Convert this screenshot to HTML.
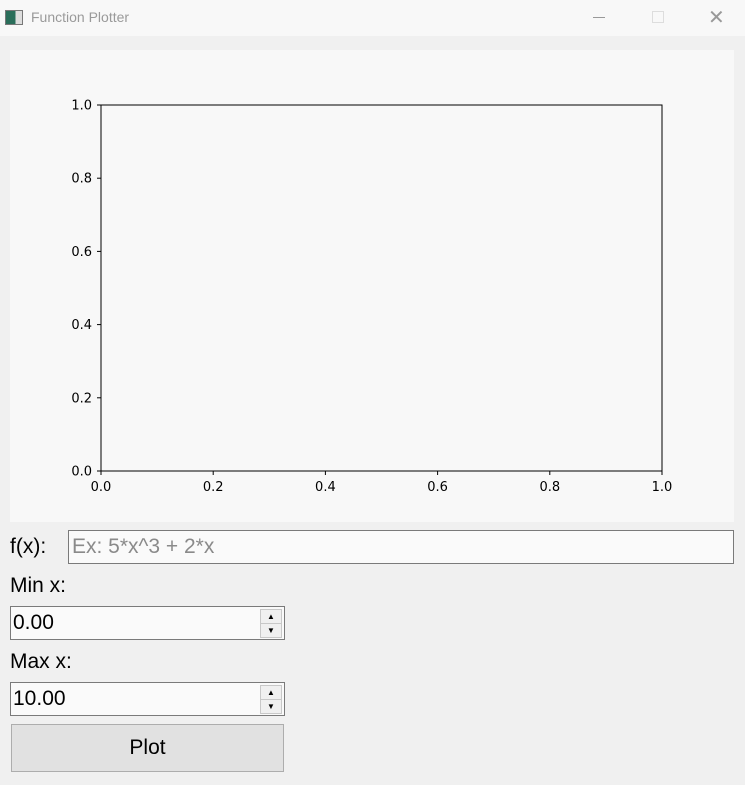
<!DOCTYPE html>
<html><head><meta charset="utf-8"><style>
body{margin:0;width:745px;height:785px;background:#f0f0f0;font-family:"Liberation Sans",sans-serif;position:relative;overflow:hidden}
.abs{position:absolute}
.lbl{font-size:21px;color:#000}
.box{background:#fafafa;border:1px solid #7a7a7a;box-sizing:border-box}
.spin{position:absolute;right:2px;width:22px;border:1px solid #c8c8c8;background:#f0f0f0;box-sizing:border-box;font-size:8px;text-align:center;line-height:13px}
</style></head><body>
<div class="abs" style="left:0;top:0;width:745px;height:36px;background:#f8f8f8">
 <div class="abs" style="left:5px;top:10px;width:16px;height:13px;border:1px solid #777;background:linear-gradient(90deg,#2a6e5a 60%,#ddd 60%)"></div>
 <div class="abs" style="left:31px;top:9px;font-size:14px;color:#9a9a9a">Function Plotter</div>
 <div class="abs" style="left:593px;top:17px;width:12px;height:1px;background:#999"></div>
 <div class="abs" style="left:652px;top:11px;width:10px;height:10px;border:1px solid #ddd"></div>
 <div class="abs" style="left:708px;top:5px;font-size:20px;color:#999">✕</div>
</div>
<svg class="abs" style="left:10px;top:50px" width="724" height="472">
 <rect width="724" height="472" fill="#f8f8f8"/>
 <g id="ax" font-family="DejaVu Sans, sans-serif" font-size="13" fill="#000"></g>
</svg>
<script>
const xTicks=[0.0,0.2,0.4,0.6,0.8,1.0];
const yTicks=[0.0,0.2,0.4,0.6,0.8,1.0];
const X0=91,X1=652,Y0=421,Y1=55;
const sx=v=>X0+(X1-X0)*v, sy=v=>Y0-(Y0-Y1)*v;
const g=document.getElementById('ax');const NS='http://www.w3.org/2000/svg';
function mk(t,a){const e=document.createElementNS(NS,t);for(const k in a)e.setAttribute(k,a[k]);g.appendChild(e);return e;}
const fr=mk('rect',{x:X0,y:Y1,width:X1-X0,height:Y0-Y1,fill:'none',stroke:'#000','stroke-width':1});


xTicks.forEach(v=>{const l=mk('line',{x1:sx(v),x2:sx(v),y1:Y0,y2:Y0+4,stroke:'#000'});


const t=mk('text',{x:sx(v),y:Y0+20,'text-anchor':'middle'});t.textContent=v.toFixed(1);

});
yTicks.forEach(v=>{const l=mk('line',{x1:X0-4,x2:X0,y1:sy(v),y2:sy(v),stroke:'#000'});


const t=mk('text',{x:X0-9,y:sy(v)+4.5,'text-anchor':'end'});t.textContent=v.toFixed(1);

});
</script>
<div class="abs lbl" style="left:10px;top:535px">f(x):</div>
<div class="abs box" style="left:68px;top:530px;width:666px;height:34px;padding:4px 3px;font-size:21px;color:#8a8a8a">Ex: 5*x^3 + 2*x</div>
<div class="abs lbl" style="left:10px;top:574px">Min x:</div>
<div class="abs box" style="left:10px;top:606px;width:275px;height:34px;padding:4px 2px;font-size:21px">0.00
 <div class="spin" style="top:2px;height:15px">▲</div>
 <div class="spin" style="top:16px;height:15px">▼</div></div>
<div class="abs lbl" style="left:10px;top:650px">Max x:</div>
<div class="abs box" style="left:10px;top:682px;width:275px;height:34px;padding:4px 2px;font-size:21px">10.00
 <div class="spin" style="top:2px;height:15px">▲</div>
 <div class="spin" style="top:16px;height:15px">▼</div></div>
<div class="abs" style="left:11px;top:724px;width:273px;height:48px;background:#e1e1e1;border:1px solid #adadad;box-sizing:border-box;text-align:center;line-height:46px;font-size:21px">Plot</div>
</body></html>
